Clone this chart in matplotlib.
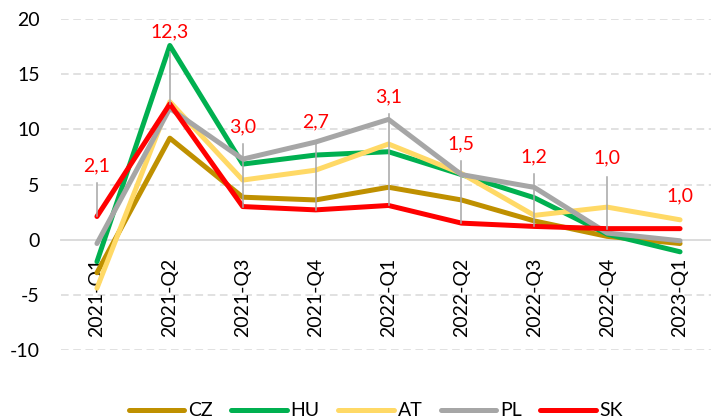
import matplotlib
matplotlib.use("Agg")
import matplotlib.pyplot as plt

categories = ["2021-Q1", "2021-Q2", "2021-Q3", "2021-Q4", "2022-Q1",
              "2022-Q2", "2022-Q3", "2022-Q4", "2023-Q1"]
cz = [-3.0, 9.2, 3.85, 3.6, 4.75, 3.6, 1.7, 0.3, -0.35]
hu = [-2.0, 17.6, 6.85, 7.67, 7.97, 5.9, 3.8, 0.5, -1.1]
at = [-4.4, 12.5, 5.4, 6.3, 8.67, 6.0, 2.2, 2.95, 1.8]
pl = [-0.35, 11.9, 7.3, 8.85, 10.9, 5.9, 4.74, 0.6, -0.1]
sk = [2.1, 12.3, 3.0, 2.7, 3.1, 1.5, 1.2, 1.0, 1.0]
sk_labels = ["2,1", "12,3", "3,0", "2,7", "3,1", "1,5", "1,2", "1,0", "1,0"]
yticks = [-10, -5, 0, 5, 10, 15, 20]

# annotation placement (label centre and leader top, in data units)
label_y = [6.67, 18.8, 10.2, 10.65, 12.9, 8.67, 7.5, 7.4, 3.95]
leader_top = [5.13, 17.0, 8.67, 8.67, 11.4, 7.13, 5.95, 5.68, None]

series = [("CZ", cz, "#BF9000"), ("HU", hu, "#00B050"), ("AT", at, "#FFD966"),
          ("PL", pl, "#A6A6A6"), ("SK", sk, "#FF0000")]

plt.rcParams['font.family'] = ['Lato', 'DejaVu Sans']
FS = 14

fig = plt.figure(figsize=(7.11, 4.2), dpi=100)
ax = fig.add_axes([60.5/711, 1-350/420, 656/711, 331/420])

x = list(range(len(categories)))
for name, vals, col in series:
    ax.plot(x, vals, color=col, lw=3.6, label=name, solid_capstyle='round',
            solid_joinstyle='round', zorder=3)

for i, (v, ly, lt, lab) in enumerate(zip(sk, label_y, leader_top, sk_labels)):
    if lt is not None:
        ax.plot([i, i], [v, lt], color="#A6A6A6", lw=1.1, zorder=4)
    ax.text(i, ly, lab, color="#FF0000", fontsize=FS, ha='center', va='center', zorder=5)

ax.set_xlim(-0.5, len(categories) - 0.5)
ax.set_ylim(-10, 20)
ax.set_yticks(yticks)
ax.set_yticklabels([str(t) for t in yticks])
ax.set_xticks(x)
ax.set_xticklabels(categories)
ax.tick_params(axis='x', length=0, pad=13, labelsize=FS, labelrotation=90)
ax.tick_params(axis='y', length=0, pad=15, labelsize=FS)

for s in ['top', 'right', 'left']:
    ax.spines[s].set_visible(False)
ax.spines['bottom'].set_position(('data', 0))
ax.spines['bottom'].set_color('#D9D9D9')
ax.spines['bottom'].set_linewidth(1.3)
ax.spines['bottom'].set_zorder(1)

for t in yticks:
    if t != 0:
        ax.axhline(t, color='#D9D9D9', lw=1.1, ls=(0, (5, 3)), zorder=0)

fig.legend(loc='center', bbox_to_anchor=(376/711, 1-411/420), ncol=5, frameon=False,
           fontsize=FS, handlelength=2.85, handletextpad=0.2, columnspacing=0.95)

fig.savefig("out.png", dpi=100)
